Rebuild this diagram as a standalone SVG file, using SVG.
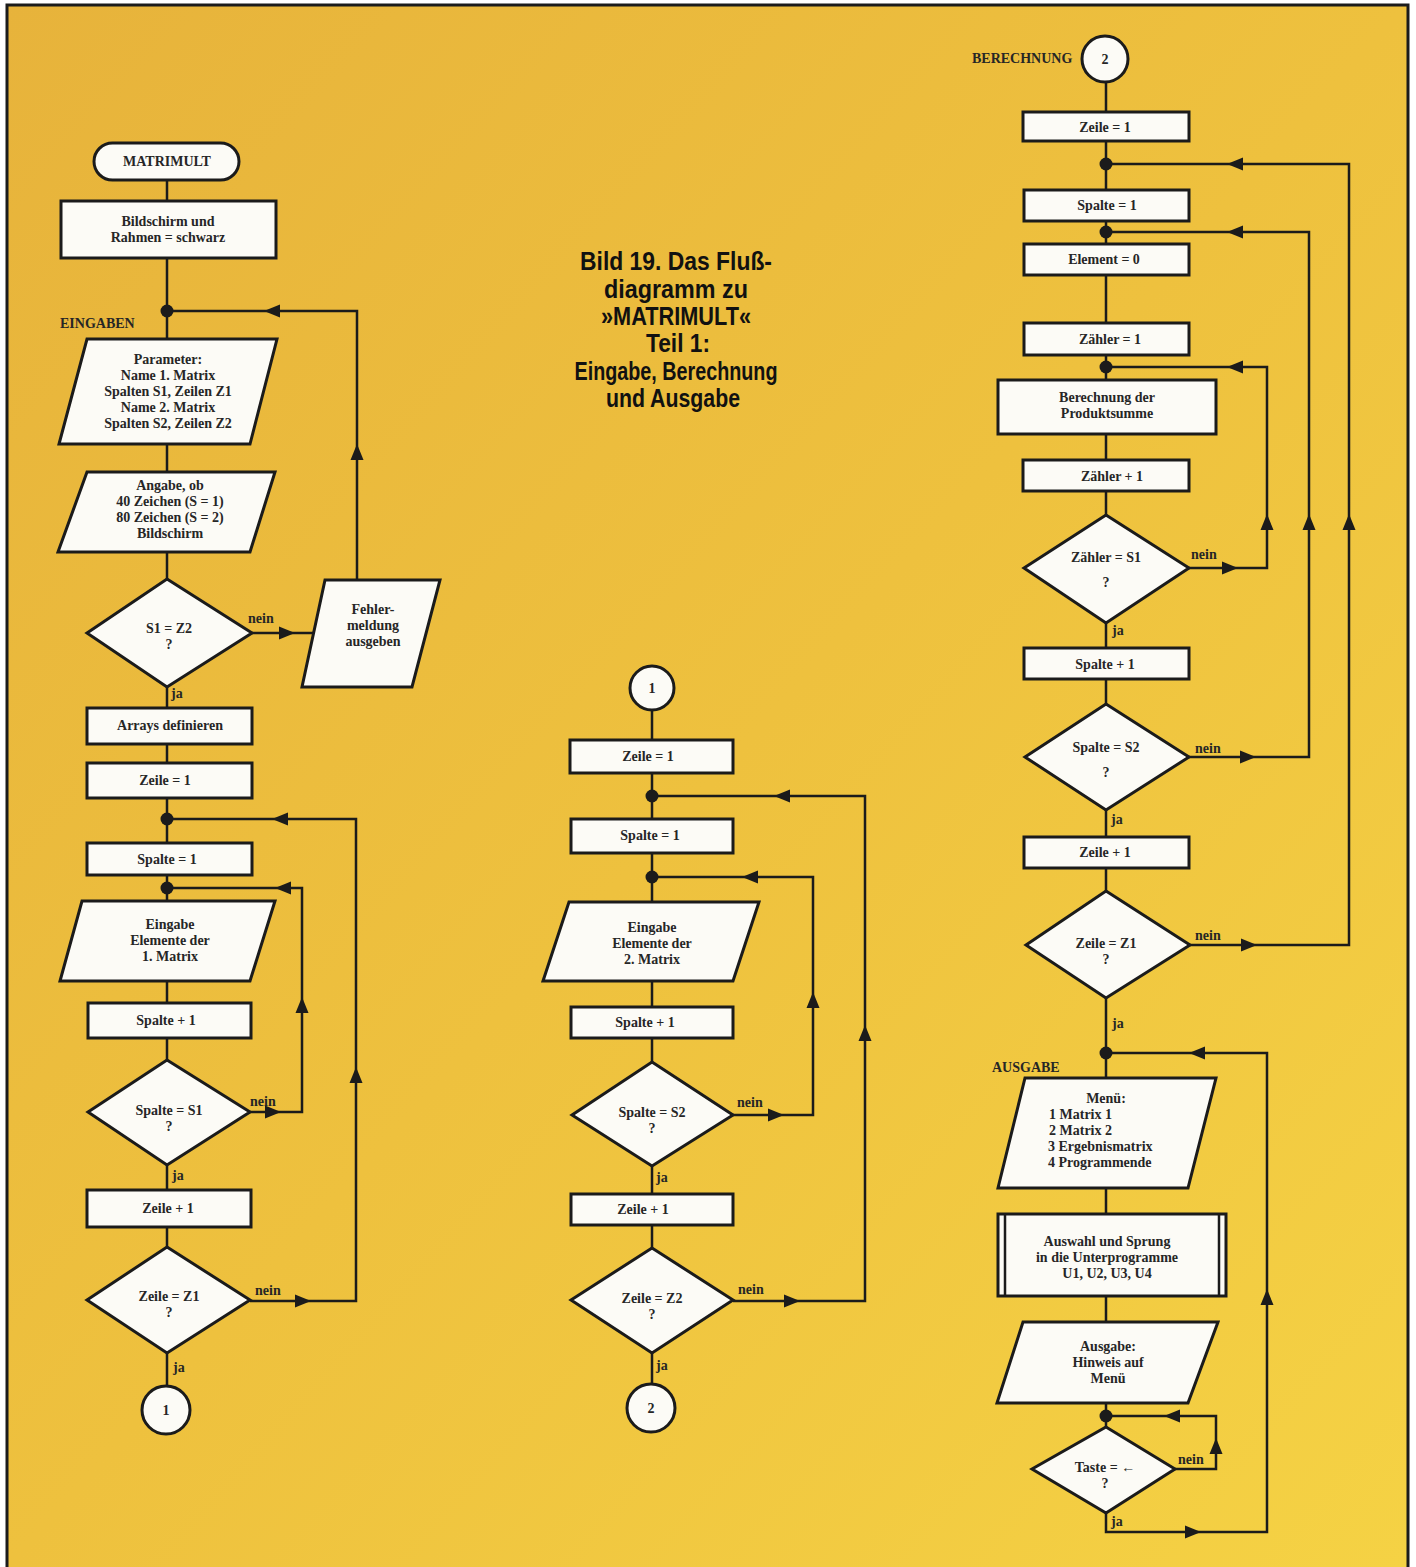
<svg xmlns="http://www.w3.org/2000/svg" xmlns:xlink="http://www.w3.org/1999/xlink" width="1416" height="1567" viewBox="0 0 1416 1567">
<defs>
<linearGradient id="bg" x1="0" y1="0" x2="1" y2="1">
<stop offset="0" stop-color="#E7B33B"/>
<stop offset="0.5" stop-color="#EEC13E"/>
<stop offset="1" stop-color="#F5D244"/>
</linearGradient>
<path id="ah" d="M8,0 L-8,-6.5 L-8,6.5 Z" fill="#1b1b1b"/>
</defs>
<style>
.sh{fill:#fcfbf6;stroke:#1b1b1b;stroke-width:3;stroke-linejoin:miter}
.cn{fill:none;stroke:#1b1b1b;stroke-width:2.5}
.dot{fill:#1b1b1b}
.t{font-family:"Liberation Serif",serif;font-size:14px;font-weight:bold;fill:#262626;text-anchor:middle}
.l{font-family:"Liberation Serif",serif;font-size:14px;font-weight:bold;fill:#262626;text-anchor:start}
.ti{font-family:"Liberation Sans",Arial,sans-serif;font-size:25px;font-weight:bold;fill:#111;text-anchor:middle}
</style>
<rect x="0" y="0" width="1416" height="1567" fill="#fff"/>
<rect x="7" y="5" width="1401" height="1562" fill="url(#bg)"/>
<path d="M7,1567 V5 H1408 V1567" fill="none" stroke="#1b1b1b" stroke-width="3"/>

<g id="title">
<text class="ti" x="676" y="270" textLength="192" lengthAdjust="spacingAndGlyphs">Bild 19. Das Fluß-</text>
<text class="ti" x="676" y="298" textLength="144" lengthAdjust="spacingAndGlyphs">diagramm zu</text>
<text class="ti" x="676" y="325" textLength="150" lengthAdjust="spacingAndGlyphs">»MATRIMULT«</text>
<text class="ti" x="678" y="352" textLength="64" lengthAdjust="spacingAndGlyphs">Teil 1:</text>
<text class="ti" x="676" y="380" textLength="203" lengthAdjust="spacingAndGlyphs">Eingabe, Berechnung</text>
<text class="ti" x="673" y="407" textLength="134" lengthAdjust="spacingAndGlyphs">und Ausgabe</text>
</g>

<g id="connectors">
<path class="cn" d="M167,180 V201 M167,258 V339 M167,444 V472 M167,552 V579 M167,687 V708 M167,744 V763 M167,798 V843 M167,875 V901 M167,981 V1003 M167,1038 V1060 M167,1165 V1190 M167,1227 V1247 M167,1353 V1386"/>
<path class="cn" d="M252,633 H314"/>
<path class="cn" d="M357,580 V311 H167"/>
<path class="cn" d="M250,1112 H302 V888 H167"/>
<path class="cn" d="M250,1301 H356 V819 H167"/>
<use href="#ah" transform="translate(287,633)"/>
<use href="#ah" transform="translate(357,452) rotate(-90)"/>
<use href="#ah" transform="translate(272,311) rotate(180)"/>
<use href="#ah" transform="translate(273,1112)"/>
<use href="#ah" transform="translate(302,1005) rotate(-90)"/>
<use href="#ah" transform="translate(283,888) rotate(180)"/>
<use href="#ah" transform="translate(303,1301)"/>
<use href="#ah" transform="translate(356,1075) rotate(-90)"/>
<use href="#ah" transform="translate(280,819) rotate(180)"/>
<circle class="dot" cx="167" cy="311" r="6.5"/>
<circle class="dot" cx="167" cy="819" r="6.5"/>
<circle class="dot" cx="167" cy="888" r="6.5"/>
<path class="cn" d="M652,710 V740 M652,773 V819 M652,853 V902 M652,981 V1007 M652,1038 V1062 M652,1166 V1194 M652,1225 V1248 M652,1353 V1384"/>
<path class="cn" d="M733,1115 H813 V877 H652"/>
<path class="cn" d="M733,1301 H865 V796 H652"/>
<use href="#ah" transform="translate(776,1115)"/>
<use href="#ah" transform="translate(813,1000) rotate(-90)"/>
<use href="#ah" transform="translate(750,877) rotate(180)"/>
<use href="#ah" transform="translate(792,1301)"/>
<use href="#ah" transform="translate(865,1033) rotate(-90)"/>
<use href="#ah" transform="translate(782,796) rotate(180)"/>
<circle class="dot" cx="652" cy="796" r="6.5"/>
<circle class="dot" cx="652" cy="877" r="6.5"/>
<path class="cn" d="M1106,82 V112 M1106,141 V190 M1106,221 V244 M1106,275 V323 M1106,355 V380 M1106,434 V460 M1106,491 V515 M1106,623 V648 M1106,679 V704 M1106,810 V837 M1106,868 V891 M1106,998 V1078 M1106,1188 V1214 M1106,1296 V1322 M1106,1403 V1427"/>
<path class="cn" d="M1189,568 H1267 V367 H1106"/>
<path class="cn" d="M1189,757 H1309 V232 H1106"/>
<path class="cn" d="M1190,945 H1349 V164 H1106"/>
<path class="cn" d="M1106,1513 V1532 H1267 V1053 H1106"/>
<path class="cn" d="M1175,1469 H1216 V1416 H1106"/>
<use href="#ah" transform="translate(1230,568)"/>
<use href="#ah" transform="translate(1267,522) rotate(-90)"/>
<use href="#ah" transform="translate(1235,367) rotate(180)"/>
<use href="#ah" transform="translate(1248,757)"/>
<use href="#ah" transform="translate(1309,522) rotate(-90)"/>
<use href="#ah" transform="translate(1235,232) rotate(180)"/>
<use href="#ah" transform="translate(1249,945)"/>
<use href="#ah" transform="translate(1349,522) rotate(-90)"/>
<use href="#ah" transform="translate(1235,164) rotate(180)"/>
<use href="#ah" transform="translate(1193,1532)"/>
<use href="#ah" transform="translate(1267,1297) rotate(-90)"/>
<use href="#ah" transform="translate(1197,1053) rotate(180)"/>
<use href="#ah" transform="translate(1216,1446) rotate(-90)"/>
<use href="#ah" transform="translate(1172,1416) rotate(180)"/>
<circle class="dot" cx="1106" cy="164" r="6.5"/>
<circle class="dot" cx="1106" cy="232" r="6.5"/>
<circle class="dot" cx="1106" cy="367" r="6.5"/>
<circle class="dot" cx="1106" cy="1053" r="6.5"/>
<circle class="dot" cx="1106" cy="1416" r="6.5"/>
<text class="l" x="248" y="623">nein</text>
<text class="l" x="171" y="698">ja</text>
<text class="l" x="250" y="1106">nein</text>
<text class="l" x="172" y="1180">ja</text>
<text class="l" x="255" y="1295">nein</text>
<text class="l" x="173" y="1372">ja</text>
<text class="l" x="737" y="1107">nein</text>
<text class="l" x="656" y="1182">ja</text>
<text class="l" x="738" y="1294">nein</text>
<text class="l" x="656" y="1370">ja</text>
<text class="l" x="1191" y="559">nein</text>
<text class="l" x="1112" y="635">ja</text>
<text class="l" x="1195" y="753">nein</text>
<text class="l" x="1111" y="824">ja</text>
<text class="l" x="1195" y="940">nein</text>
<text class="l" x="1112" y="1028">ja</text>
<text class="l" x="1178" y="1464">nein</text>
<text class="l" x="1111" y="1526">ja</text>
</g>

<g id="section-labels">
<text class="l" x="60" y="328">EINGABEN</text>
<text class="l" x="972" y="63">BERECHNUNG</text>
<text class="l" x="992" y="1072">AUSGABE</text>
</g>

<g id="start"><rect class="sh" x="94" y="143" width="145" height="37" rx="18.5"/><text class="t" x="167" y="166">MATRIMULT</text></g>
<g id="bildschirm"><rect class="sh" x="61" y="201" width="215" height="57"/><text class="t" x="168" y="226">Bildschirm und</text><text class="t" x="168" y="242">Rahmen = schwarz</text></g>
<g id="parameter"><polygon class="sh" points="87,339 277,339 250,444 59,444"/><text class="t" x="168" y="364">Parameter:</text><text class="t" x="168" y="380">Name 1. Matrix</text><text class="t" x="168" y="396">Spalten S1, Zeilen Z1</text><text class="t" x="168" y="412">Name 2. Matrix</text><text class="t" x="168" y="428">Spalten S2, Zeilen Z2</text></g>
<g id="angabe"><polygon class="sh" points="87,472 275,472 250,552 58,552"/><text class="t" x="170" y="490">Angabe, ob</text><text class="t" x="170" y="506">40 Zeichen (S = 1)</text><text class="t" x="170" y="522">80 Zeichen (S = 2)</text><text class="t" x="170" y="538">Bildschirm</text></g>
<g id="dec-s1z2"><polygon class="sh" points="167,579 252,633 167,687 87,633"/><text class="t" x="169" y="633">S1 = Z2</text><text class="t" x="169" y="649">?</text></g>
<g id="fehler"><polygon class="sh" points="325,580 440,580 412,687 302,687"/><text class="t" x="373" y="614">Fehler-</text><text class="t" x="373" y="630">meldung</text><text class="t" x="373" y="646">ausgeben</text></g>
<g id="arrays"><rect class="sh" x="87" y="708" width="165" height="36"/><text class="t" x="170" y="730">Arrays definieren</text></g>
<g id="l-zeile1"><rect class="sh" x="87" y="763" width="165" height="35"/><text class="t" x="165" y="785">Zeile = 1</text></g>
<g id="l-spalte1"><rect class="sh" x="87" y="843" width="165" height="32"/><text class="t" x="167" y="864">Spalte = 1</text></g>
<g id="l-eingabe"><polygon class="sh" points="82,901 275,901 250,981 60,981"/><text class="t" x="170" y="929">Eingabe</text><text class="t" x="170" y="945">Elemente der</text><text class="t" x="170" y="961">1. Matrix</text></g>
<g id="l-spalteplus"><rect class="sh" x="88" y="1003" width="163" height="35"/><text class="t" x="166" y="1025">Spalte + 1</text></g>
<g id="l-dec-spalte"><polygon class="sh" points="167,1060 250,1112 167,1165 88,1112"/><text class="t" x="169" y="1115">Spalte = S1</text><text class="t" x="169" y="1131">?</text></g>
<g id="l-zeileplus"><rect class="sh" x="87" y="1190" width="164" height="37"/><text class="t" x="168" y="1213">Zeile + 1</text></g>
<g id="l-dec-zeile"><polygon class="sh" points="167,1247 250,1300 167,1353 87,1300"/><text class="t" x="169" y="1301">Zeile = Z1</text><text class="t" x="169" y="1317">?</text></g>
<g id="l-conn1"><circle class="sh" cx="166" cy="1410" r="24"/><text class="t" x="166" y="1415">1</text></g>

<g id="m-conn1"><circle class="sh" cx="652" cy="688" r="22"/><text class="t" x="652" y="693">1</text></g>
<g id="m-zeile1"><rect class="sh" x="570" y="740" width="163" height="33"/><text class="t" x="648" y="761">Zeile = 1</text></g>
<g id="m-spalte1"><rect class="sh" x="571" y="819" width="162" height="34"/><text class="t" x="650" y="840">Spalte = 1</text></g>
<g id="m-eingabe"><polygon class="sh" points="569,902 759,902 733,981 543,981"/><text class="t" x="652" y="932">Eingabe</text><text class="t" x="652" y="948">Elemente der</text><text class="t" x="652" y="964">2. Matrix</text></g>
<g id="m-spalteplus"><rect class="sh" x="571" y="1007" width="162" height="31"/><text class="t" x="645" y="1027">Spalte + 1</text></g>
<g id="m-dec-spalte"><polygon class="sh" points="652,1062 733,1115 652,1166 572,1115"/><text class="t" x="652" y="1117">Spalte = S2</text><text class="t" x="652" y="1133">?</text></g>
<g id="m-zeileplus"><rect class="sh" x="571" y="1194" width="162" height="31"/><text class="t" x="643" y="1214">Zeile + 1</text></g>
<g id="m-dec-zeile"><polygon class="sh" points="652,1248 733,1300 652,1353 571,1300"/><text class="t" x="652" y="1303">Zeile = Z2</text><text class="t" x="652" y="1319">?</text></g>
<g id="m-conn2"><circle class="sh" cx="651" cy="1408" r="24"/><text class="t" x="651" y="1413">2</text></g>

<g id="r-conn2"><circle class="sh" cx="1105" cy="59" r="23"/><text class="t" x="1105" y="64">2</text></g>
<g id="r-zeile1"><rect class="sh" x="1023" y="112" width="166" height="29"/><text class="t" x="1105" y="132">Zeile = 1</text></g>
<g id="r-spalte1"><rect class="sh" x="1024" y="190" width="165" height="31"/><text class="t" x="1107" y="210">Spalte = 1</text></g>
<g id="r-element"><rect class="sh" x="1024" y="244" width="165" height="31"/><text class="t" x="1104" y="264">Element = 0</text></g>
<g id="r-zaehler1"><rect class="sh" x="1024" y="323" width="165" height="32"/><text class="t" x="1110" y="344">Zähler = 1</text></g>
<g id="r-berechnung"><rect class="sh" x="998" y="380" width="218" height="54"/><text class="t" x="1107" y="402">Berechnung der</text><text class="t" x="1107" y="418">Produktsumme</text></g>
<g id="r-zaehlerplus"><rect class="sh" x="1023" y="460" width="166" height="31"/><text class="t" x="1112" y="481">Zähler + 1</text></g>
<g id="r-dec-zaehler"><polygon class="sh" points="1106,515 1189,568 1106,623 1024,568"/><text class="t" x="1106" y="562">Zähler = S1</text><text class="t" x="1106" y="587">?</text></g>
<g id="r-spalteplus"><rect class="sh" x="1024" y="648" width="165" height="31"/><text class="t" x="1105" y="669">Spalte + 1</text></g>
<g id="r-dec-spalte"><polygon class="sh" points="1106,704 1189,757 1106,810 1025,757"/><text class="t" x="1106" y="752">Spalte = S2</text><text class="t" x="1106" y="777">?</text></g>
<g id="r-zeileplus"><rect class="sh" x="1024" y="837" width="165" height="31"/><text class="t" x="1105" y="857">Zeile + 1</text></g>
<g id="r-dec-zeile"><polygon class="sh" points="1106,891 1190,945 1106,998 1026,945"/><text class="t" x="1106" y="948">Zeile = Z1</text><text class="t" x="1106" y="964">?</text></g>
<g id="r-menu"><polygon class="sh" points="1025,1078 1216,1078 1188,1188 998,1188"/><text class="t" x="1106" y="1103">Menü:</text><text class="l" x="1049" y="1119">1 Matrix 1</text><text class="l" x="1049" y="1135">2 Matrix 2</text><text class="l" x="1048" y="1151">3 Ergebnismatrix</text><text class="l" x="1048" y="1167">4 Programmende</text></g>
<g id="r-auswahl"><rect class="sh" x="998" y="1214" width="228" height="82"/><path d="M1005,1214 V1296 M1219,1214 V1296" fill="none" stroke="#1b1b1b" stroke-width="2.5"/><text class="t" x="1107" y="1246">Auswahl und Sprung</text><text class="t" x="1107" y="1262">in die Unterprogramme</text><text class="t" x="1107" y="1278">U1, U2, U3, U4</text></g>
<g id="r-ausgabe"><polygon class="sh" points="1023,1322 1218,1322 1188,1403 997,1403"/><text class="t" x="1108" y="1351">Ausgabe:</text><text class="t" x="1108" y="1367">Hinweis auf</text><text class="t" x="1108" y="1383">Menü</text></g>
<g id="r-dec-taste"><polygon class="sh" points="1106,1427 1175,1469 1106,1513 1032,1469"/><text class="t" x="1105" y="1472">Taste = ←</text><text class="t" x="1105" y="1488">?</text></g>
</svg>
